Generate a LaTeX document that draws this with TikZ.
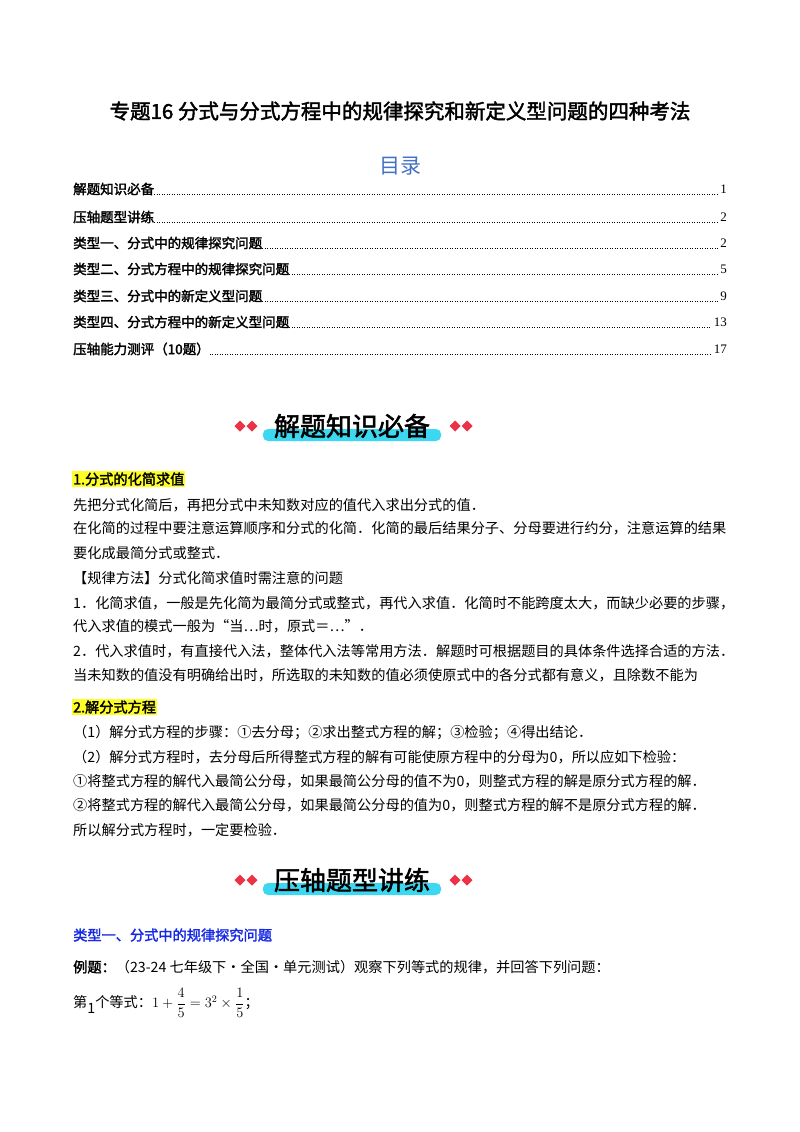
\documentclass[tikz,border=0pt]{standalone}
\usepackage{amsmath}
\usepackage{fontspec}
\setmainfont{Liberation Serif}
\newfontfamily\cjk{Noto Sans CJK SC}
\newfontfamily\cjkb[FakeBold=2]{Noto Sans CJK SC}
\definecolor{tocblue}{RGB}{68,114,196}
\definecolor{typeblue}{RGB}{20,40,230}
\definecolor{hl}{RGB}{255,255,40}
\definecolor{bancyan}{RGB}{60,215,240}
\definecolor{dred}{RGB}{235,50,70}
\begin{document}
\begin{tikzpicture}[x=1pt,y=-1pt,
  body/.style={anchor=west,inner sep=0pt,font=\fontsize{14.2}{16}\selectfont\cjk},
  toc/.style={anchor=west,inner sep=0pt,font=\fontsize{13.5}{15}\selectfont\cjkb},
  tocn/.style={anchor=east,inner sep=0pt,font=\fontsize{13}{15}\selectfont},
  hd/.style={anchor=west,inner sep=1pt,fill=hl,font=\fontsize{14.2}{16}\selectfont\cjkb},
  dia/.style={fill=dred,draw=none}]
\useasboundingbox (0,0) rectangle (800,1132);
\fill[white] (0,0) rectangle (800,1132);
\node[inner sep=0pt,font=\fontsize{20.5}{24}\selectfont\cjkb] (title) at (400,111) {专题16\ 分式与分式方程中的规律探究和新定义型问题的四种考法};
\node[inner sep=0pt,text=tocblue,font=\fontsize{21}{24}\selectfont\cjk] (ml) at (400,166) {目录};
\foreach \t/\n/\y [count=\i] in {解题知识必备/1/189,压轴题型讲练/2/217,类型一、分式中的规律探究问题/2/243,类型二、分式方程中的规律探究问题/5/269,类型三、分式中的新定义型问题/9/296,类型四、分式方程中的新定义型问题/13/322,压轴能力测评（10题）/17/349}{
  \node[toc] (t\i) at (73,\y) {\t};
  \node[tocn] (n\i) at (727,\y) {\n};
  \draw[line width=0.9pt,dash pattern=on 0.9pt off 1.6pt] ([yshift=-5pt]t\i.east) -- ([yshift=-5pt,xshift=-2pt]n\i.west);
}
% banners
\foreach \yy/\txt [count=\j] in {426/解题知识必备,880/压轴题型讲练}{
  \fill[bancyan,rounded corners=5pt] (263,\yy+3) rectangle (441,\yy+15);
  \node[inner sep=0pt,font=\fontsize{26}{28}\selectfont\cjkb] (ban\j) at (352,\yy) {\txt};
  \foreach \cx in {240,252,455,467}{
    \fill[dia] (\cx-5.5,\yy) -- (\cx,\yy-5.5) -- (\cx+5.5,\yy) -- (\cx,\yy+5.5) -- cycle;}
}
\node[hd] (h1) at (72,479) {1.分式的化简求值};
\node[body] (l1) at (73,505) {先把分式化简后，再把分式中未知数对应的值代入求出分式的值．};
\node[body] (l2) at (73,528) {在化简的过程中要注意运算顺序和分式的化简．化简的最后结果分子、分母要进行约分，注意运算的结果};
\node[body] (l3) at (73,553) {要化成最简分式或整式．};
\node[body] (l4) at (73,578) {【规律方法】分式化简求值时需注意的问题};
\node[body] (l5) at (73,603) {1．化简求值，一般是先化简为最简分式或整式，再代入求值．化简时不能跨度太大，而缺少必要的步骤，};
\node[body] (l6) at (73,626) {代入求值的模式一般为“当…时，原式＝…”．};
\node[body] (l7) at (73,651) {2．代入求值时，有直接代入法，整体代入法等常用方法．解题时可根据题目的具体条件选择合适的方法．};
\node[body] (l8) at (73,675) {当未知数的值没有明确给出时，所选取的未知数的值必须使原式中的各分式都有意义，且除数不能为};
\node[hd] (h2) at (72,707) {2.解分式方程};
\node[body] (m1) at (73,733) {（1）解分式方程的步骤：①去分母；②求出整式方程的解；③检验；④得出结论．};
\node[body] (m2) at (73,757) {（2）解分式方程时，去分母后所得整式方程的解有可能使原方程中的分母为0，所以应如下检验：};
\node[body] (m3) at (73,781) {①将整式方程的解代入最简公分母，如果最简公分母的值不为0，则整式方程的解是原分式方程的解．};
\node[body] (m4) at (73,805) {②将整式方程的解代入最简公分母，如果最简公分母的值为0，则整式方程的解不是原分式方程的解．};
\node[body] (m5) at (73,830) {所以解分式方程时，一定要检验．};
\node[anchor=west,inner sep=0pt,text=typeblue,font=\fontsize{14.2}{16}\selectfont\cjkb] (ty1) at (73,935) {类型一、分式中的规律探究问题};
\node[body] (ex) at (73,967) {{\cjkb 例题：}（23-24 七年级下·全国·单元测试）观察下列等式的规律，并回答下列问题：};
\node[body] (eq) at (73,1003) {第\raisebox{-6pt}{1}个等式：$1+\dfrac{4}{5}=3^2\times\dfrac{1}{5}$；};
\end{tikzpicture}
\end{document}
